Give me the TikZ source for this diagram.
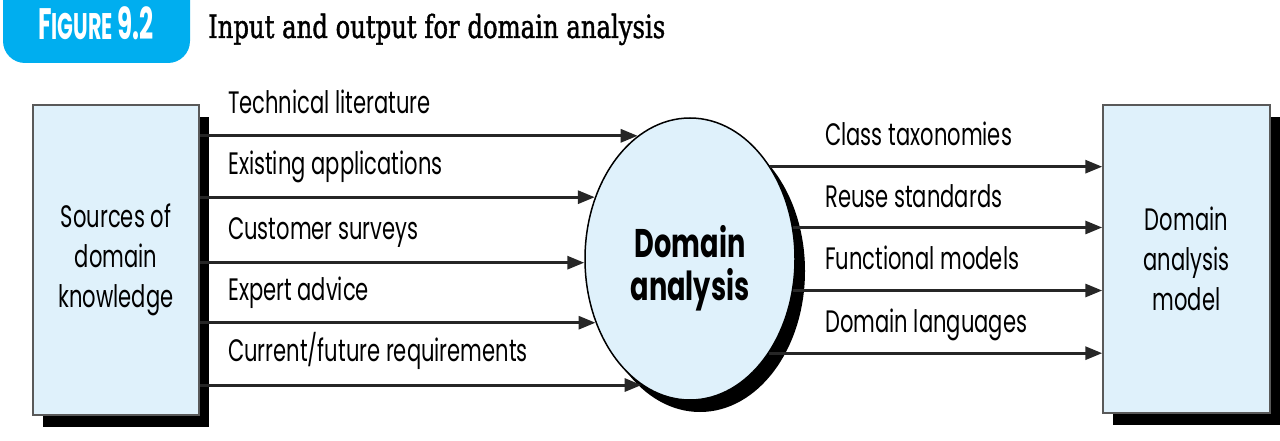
\documentclass[tikz,border=0pt]{standalone}
\usepackage{fontspec}
\usepackage{tikz}
\usetikzlibrary{arrows.meta,shapes.geometric,shadows}
\setmainfont{Poppins}[FakeStretch=0.68]
\newfontfamily\titlefont{DejaVu Serif}[FakeStretch=0.76,FakeBold=1.2]
\definecolor{FigBlue}{HTML}{00AEEF}
\definecolor{BoxBlue}{HTML}{DFF1FB}
\colorlet{LineGray}{black!85}
\tikzset{
  boxshadow/.style={drop shadow={shadow xshift=10pt,shadow yshift=-12pt,opacity=1,fill=black}},
  srcbox/.style={rectangle,draw=black!65,line width=1.5pt,fill=BoxBlue,boxshadow,
                 minimum width=166pt,minimum height=310pt,align=center,
                 font=\fontsize{31}{40}\selectfont},
  arr/.style={line width=3pt,draw=LineGray,-{Triangle[length=17pt,width=13pt]}},
  lbl/.style={inner sep=0pt,anchor=base west,font=\fontsize{31}{31}\selectfont}
}
\begin{document}
\begin{tikzpicture}[x=1pt,y=-1pt]
  \useasboundingbox (0,0) rectangle (1280,441);
%  Header
  \fill[FigBlue,rounded corners=22pt] (3,-30) rectangle (190,63);
  \node[text=white,inner sep=0pt,font=\bfseries\addfontfeatures{FakeStretch=0.56}] (fig) at (96,23)
    {\fontsize{44}{44}\selectfont F\fontsize{37}{37}\selectfont IGURE \fontsize{44}{44}\selectfont 9.2};
  \node[inner sep=0pt,anchor=base west,font=\titlefont\fontsize{32}{32}\selectfont] (title) at (208,38)
    {Input and output for domain analysis};

%  Boxes
  \node[srcbox] (src) at (116,260) {Sources of\\domain\\knowledge};
  \node[srcbox,minimum width=167pt,minimum height=308pt] (dam) at (1186.5,259) {Domain\\analysis\\model};
  \node[ellipse,draw=black,line width=1.5pt,fill=BoxBlue,boxshadow,inner sep=0pt,
        minimum width=210pt,minimum height=282pt] (da) at (690,259) {};
  \node[align=center,font=\bfseries\fontsize{40}{43}\selectfont] (datext) at ([yshift=-9pt]da.center)
    {Domain\\analysis};

%  Inputs
  \draw[arr] (src.east |- da.113) -- (da.113);
  \draw[arr] (src.east |- da.147) -- (da.147);
  \draw[arr] (src.east |- da.182) -- (da.182);
  \draw[arr] (src.east |- da.214) -- (da.214);
  \draw[arr] (src.east |- da.249) -- (da.249);
  \node[lbl] (tl) at (228,114) {Technical literature};
  \node[lbl] (ea) at (228,175) {Existing applications};
  \node[lbl] (cs) at (228,239) {Customer surveys};
  \node[lbl] (ex) at (228,300) {Expert advice};
  \node[lbl] (cf) at (228,361) {Current/future requirements};

%  Outputs
  \draw[arr] (da.49) -- (dam.west |- da.49);
  \draw[arr] (da.17) -- (dam.west |- da.17);
  \draw[arr] (da.-17) -- (dam.west |- da.-17);
  \draw[arr] (da.-50) -- (dam.west |- da.-50);
  \node[lbl] (ct) at (825,146) {Class taxonomies};
  \node[lbl] (rs) at (825,207) {Reuse standards};
  \node[lbl] (fm) at (825,269) {Functional models};
  \node[lbl] (dl) at (825,332) {Domain languages};
\end{tikzpicture}
\end{document}
